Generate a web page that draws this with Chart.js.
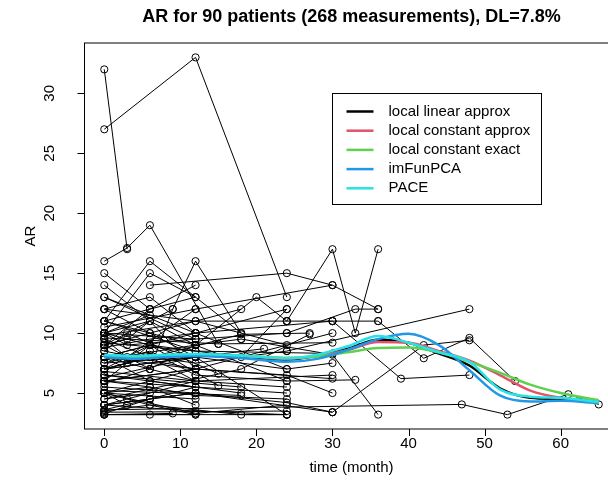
<!DOCTYPE html>
<html>
<head>
<meta charset="utf-8">
<script src="https://cdn.jsdelivr.net/npm/chart.js@4.4.1/dist/chart.umd.min.js"></script>
<style>
  html, body { margin: 0; padding: 0; background: #fff; overflow: hidden; }
  #wrap { width: 608px; height: 488px; overflow: hidden; }
  canvas { display: block; }
</style>
</head>
<body>
<div id="wrap"><canvas id="arChart" width="630" height="488"></canvas></div>
<script>
// measurement months and AR values, one inner array per patient
const patientTimes = [
  [0,3], [0,12,24], [6,24,30,36], [12,20,24,30,33,36], [24,48],
  [24,30,36], [30,39,48], [36,42,48,54], [30,42,48], [0,47,53,61,65],
  [12,24,33], [18,30,36], [24,33,36], [0,3,6,15], [0,6,12],
  [0,6,12], [0,12], [0,6,12], [0,6,24], [0,6,12],
  [0,12,24], [0,6], [0,6,12], [0,12,24], [0,6,18],
  [0,6,12], [0,3,12], [0,12,30], [0,12], [0,6,12],
  [0,24], [0,6,12], [0,9,12,18], [0,12,30], [0,12],
  [0,3,15], [0,6,18], [0,12,24], [0,6], [0,18,27],
  [0,6,12], [0,3,6], [0,12], [0,12,30], [0,12,24],
  [0,6,12], [0,3,12], [0,24], [0,12,21], [0,12,24],
  [0,6,12], [0,6,9], [0,12,30], [0,6], [0,18],
  [0,6,12], [0,3], [0,12,24,30], [0,12], [0,12,24],
  [0,6,15], [0,12,24], [0,6,12], [0,6,12,24], [0,12,30],
  [0,6], [0,18,27], [0,6,12], [0,9], [0,6,18,24],
  [0,12], [0,12,30], [0,3,6], [0,12,24], [0,6,18],
  [0,18], [0,6,12,30], [0,12,24,30], [0,6,12], [0,6,12,24],
  [0,12], [0,6,18,24], [0,6,12], [0,12,24], [0,3,12,24],
  [0,6], [0,12,18], [0,6,12,24,30], [0,12], [0,15,30]
];
const patientValues = [
  [32,17], [27,33,13], [14,15,14,12], [9,13,11,17,10,17], [8.5,12],
  [11,11,11], [11,6.2,6.5], [11,7.9,9.6,6], [3.4,9,9.4], [3.6,4.05,3.2,4.9,4.05],
  [6.5,6,6.1], [9.5,8.2,3.2], [10,12,12], [16,17.1,19,9.1], [10,9,8],
  [8,7,9], [5,4.5], [9,10,8], [3.2,3.2,3.2], [7,8,6],
  [12,11,9], [15,12], [14,11,7], [13,10,12], [11,16,10],
  [10,15,13], [9.5,8,12], [6,7,6.2], [4,5], [7.5,8.5,6.5],
  [3.4,3.5], [9,12,14], [9,12,16,10], [5.5,5,3.4], [6.5,5.5],
  [8.5,10,6.6], [5,6,5], [10,9.5,10], [4.5,5], [7,9.9,10],
  [12,13,10], [6,7.5,9], [3.2,3.2], [9.2,8.5,8.3], [8,10,7],
  [4,4.5,5.5], [10,9,9.5], [6,5], [7,8,8.7], [5,3.3,4],
  [11,12,13], [9,7,12], [8.5,7,10], [3.3,4.5], [6.5,5.5],
  [10,11,9], [5,4], [7,8,7,7.5], [13,9.5], [4,3.5,3.2],
  [8,9,5.6], [9.8,11,11], [5.8,7,6], [6,5.5,4.8,4.5], [10.5,12,14],
  [7,8], [4.5,7,9.9], [8,6,7], [3.2,3.3], [5,4,3.2,3.2],
  [11,8.5], [6.8,6,6.5], [9,9.5,11], [7.5,8,3.2], [12,10,12],
  [5.2,4.8], [8.8,9.5,10,11], [6,7,6.5,5], [3.5,4,3.2], [9.5,8,7.5,8.5],
  [8,7], [7,9,8,12], [5,5.5,4], [11,9,6], [4,4.5,6,5.5],
  [10,11.5], [7.8,9,9.5], [3.6,4.5,5,4.2,3.4], [6.3,8], [9.6,9.1,9.2]
];

// estimated mean curves
const curveMonths   = [0, 4, 8, 12, 16, 20, 24, 28, 32, 36, 40, 44, 48, 52, 56, 60, 65];
const localLinear   = [8.1, 8.0, 8.15, 8.2, 8.1, 7.95, 7.8, 8.1, 8.7, 9.45, 9.2, 8.3, 7.3, 5.4, 4.6, 4.5, 4.25];
const localConstApx = [8.05, 8.0, 8.1, 8.2, 8.15, 8.0, 7.85, 8.1, 8.6, 9.25, 9.2, 8.5, 7.7, 6.5, 5.2, 4.6, 4.3];
const localConstExt = [8.0, 7.95, 8.05, 8.15, 8.15, 8.05, 7.95, 8.05, 8.4, 8.75, 8.8, 8.4, 7.6, 6.7, 5.7, 5.0, 4.4];
const imFunPCA      = [8.0, 7.85, 8.0, 8.1, 8.0, 7.8, 7.6, 7.85, 8.6, 9.5, 9.95, 9.0, 6.9, 4.8, 4.3, 4.35, 4.15];
const pace          = [8.2, 8.1, 8.2, 8.25, 8.2, 8.05, 7.9, 8.2, 8.9, 9.75, 9.2, 8.4, 7.6, 5.3, 4.7, 4.6, 4.25];

const curveNames  = ['local linear approx', 'local constant approx', 'local constant exact', 'imFunPCA', 'PACE'];
const curveColors = ['#000000', '#DF536B', '#61D04F', '#2297E6', '#28E2E5'];
const curveSeries = [localLinear, localConstApx, localConstExt, imFunPCA, pace];

const xTicks = [0, 10, 20, 30, 40, 50, 60];
const yTicks = [5, 10, 15, 20, 25, 30];

const FONT = '"Liberation Sans", Arial, Helvetica, sans-serif';

const datasets = [];
curveSeries.forEach((vals, i) => {
  datasets.push({
    label: curveNames[i],
    data: curveMonths.map((m, j) => ({ x: m, y: vals[j] })),
    showLine: true,
    borderColor: curveColors[i],
    borderWidth: 2.5,
    pointRadius: 0,
    cubicInterpolationMode: 'monotone',
    order: curveSeries.length - i
  });
});
patientTimes.forEach((times, p) => {
  datasets.push({
    label: 'patient ' + (p + 1),
    data: times.map((t, j) => ({ x: t, y: patientValues[p][j] })),
    showLine: true,
    borderColor: '#000',
    borderWidth: 1,
    pointRadius: 3.6,
    pointBorderWidth: 1,
    pointBorderColor: '#000',
    pointBackgroundColor: 'rgba(0,0,0,0)',
    tension: 0,
    order: 20
  });
});

// base-graphics style frame, axes and legend
const rFrame = {
  id: 'rFrame',
  afterDraw(chart) {
    const { ctx, chartArea: a, scales: { x, y } } = chart;
    ctx.save();
    ctx.strokeStyle = '#000';
    ctx.fillStyle = '#000';
    ctx.lineWidth = 1;
    ctx.strokeRect(a.left, a.top, a.right - a.left, a.bottom - a.top);

    // x axis
    ctx.beginPath();
    xTicks.forEach(t => {
      const px = Math.round(x.getPixelForValue(t)) + 0.5;
      ctx.moveTo(px, a.bottom);
      ctx.lineTo(px, a.bottom + 7);
    });
    ctx.stroke();
    ctx.font = '15px ' + FONT;
    ctx.textAlign = 'center';
    ctx.textBaseline = 'middle';
    xTicks.forEach(t => ctx.fillText(String(t), x.getPixelForValue(t), a.bottom + 15));
    ctx.fillText('time (month)', (a.left + a.right) / 2, a.bottom + 39);

    // y axis
    ctx.beginPath();
    yTicks.forEach(t => {
      const py = Math.round(y.getPixelForValue(t)) + 0.5;
      ctx.moveTo(a.left, py);
      ctx.lineTo(a.left - 7, py);
    });
    ctx.stroke();
    yTicks.forEach(t => {
      ctx.save();
      ctx.translate(a.left - 35, y.getPixelForValue(t));
      ctx.rotate(-Math.PI / 2);
      ctx.fillText(String(t), 0, 0);
      ctx.restore();
    });
    ctx.save();
    ctx.translate(a.left - 54, (a.top + a.bottom) / 2);
    ctx.rotate(-Math.PI / 2);
    ctx.fillText('AR', 0, 0);
    ctx.restore();

    // title
    ctx.font = 'bold 18px ' + FONT;
    ctx.fillText('AR for 90 patients (268 measurements), DL=7.8%', (a.left + a.right) / 2, 17);

    // legend anchored at (30, 30) in data units
    const lx = Math.round(x.getPixelForValue(30)) + 0.5;
    const ly = Math.round(y.getPixelForValue(30)) + 0.5;
    const w = 209, h = 111, row = 19.2;
    ctx.fillStyle = '#fff';
    ctx.fillRect(lx, ly, w, h);
    ctx.strokeStyle = '#000';
    ctx.strokeRect(lx, ly, w, h);
    ctx.font = '15px ' + FONT;
    ctx.textAlign = 'left';
    curveNames.forEach((name, i) => {
      const ry = ly + 18 + i * row;
      ctx.strokeStyle = curveColors[i];
      ctx.lineWidth = 2.5;
      ctx.beginPath();
      ctx.moveTo(lx + 14, ry);
      ctx.lineTo(lx + 41, ry);
      ctx.stroke();
      ctx.fillStyle = '#000';
      ctx.fillText(name, lx + 56, ry);
    });
    ctx.restore();
  }
};

new Chart(document.getElementById('arChart'), {
  type: 'scatter',
  data: { datasets },
  options: {
    responsive: false,
    animation: false,
    layout: { padding: { left: 84.5, top: 43, right: 11.5, bottom: 59 } },
    plugins: { legend: { display: false }, tooltip: { enabled: false } },
    scales: {
      x: { type: 'linear', min: -2.6, max: 67.6, display: false },
      y: { type: 'linear', min: 2.0, max: 34.2, display: false }
    }
  },
  plugins: [rFrame]
});
</script>
</body>
</html>
